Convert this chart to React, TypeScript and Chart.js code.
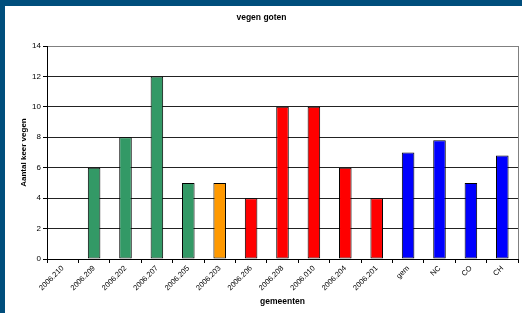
import { useEffect, useRef } from 'react';
import { Chart, registerables } from 'chart.js';
Chart.register(...registerables);

const chartTitle = 'vegen goten';
const xTitle = 'gemeenten';
const yTitle = 'Aantal keer vegen';
const categories = ['2006.210', '2006.209', '2006.202', '2006.207', '2006.205', '2006.203', '2006.206', '2006.208', '2006.010', '2006.204', '2006.201', 'gem', 'NC', 'CO', 'CH'];
const values: (number | null)[] = [null, 6, 8, 12, 5, 5, 4, 10, 10, 6, 4, 7, 7.8, 5, 6.8];
const barColors = ['#339966', '#339966', '#339966', '#339966', '#339966', '#FF9900', '#FF0000', '#FF0000', '#FF0000', '#FF0000', '#FF0000', '#0000FF', '#0000FF', '#0000FF', '#0000FF'];
const yMin = 0;
const yMax = 14;
const yStep = 2;

const FONT = '"Liberation Sans", Arial, sans-serif';

export default function App() {
  const ref = useRef<HTMLCanvasElement>(null);
  useEffect(() => {
    document.body.style.margin = '0';
    const canvas = ref.current!;
    const plotBorder = {
      id: 'plotBorder',
      afterDatasetsDraw(chart: any) {
        const { ctx, chartArea } = chart;
        ctx.save();
        ctx.strokeStyle = '#808080';
        ctx.lineWidth = 1;
        ctx.beginPath();
        const x = Math.round(chartArea.right) + 0.5;
        ctx.moveTo(x, Math.round(chartArea.top));
        ctx.lineTo(x, Math.round(chartArea.bottom));
        ctx.stroke();
        ctx.restore();
      },
    };
    const chart = new Chart(canvas, {
      type: 'bar',
      data: {
        labels: categories,
        datasets: [
          {
            data: values,
            backgroundColor: barColors,
            borderColor: '#000000',
            borderWidth: 1,
            borderSkipped: false,
            barPercentage: 0.4,
            categoryPercentage: 1.0,
          },
        ],
      },
      options: {
        responsive: false,
        animation: false,
        devicePixelRatio: 1,
        layout: { padding: { top: 0, right: 4, bottom: 0, left: 0 } },
        plugins: {
          legend: { display: false },
          tooltip: { enabled: false },
          title: {
            display: true,
            text: chartTitle,
            color: '#000',
            font: { family: FONT, size: 8.5, weight: 'bold' },
            padding: { top: 7, bottom: 22.8 },
          },
        },
        scales: {
          x: {
            afterFit: (s: any) => { s.height = 54; },
            grid: {
              display: true,
              offset: true,
              drawOnChartArea: false,
              drawTicks: true,
              tickLength: 4,
              tickColor: '#000',
            },
            border: { display: true, color: '#000', width: 1 },
            ticks: {
              color: '#000',
              font: { family: FONT, size: 7.5 },
              minRotation: 45,
              maxRotation: 45,
              autoSkip: false,
              padding: 1,
            },
            title: {
              display: true,
              text: xTitle,
              color: '#000',
              font: { family: FONT, size: 8.5, weight: 'bold' },
              padding: { top: 0, bottom: 6 },
            },
          },
          y: {
            min: yMin,
            max: yMax,
            afterFit: (s: any) => { s.width = 42; },
            grid: {
              color: (c: any) => (c.tick && c.tick.value === yMax ? '#808080' : '#222'),
              lineWidth: 1,
              drawTicks: true,
              tickLength: 4,
              tickColor: '#000',
            },
            border: { display: true, color: '#000', width: 1 },
            ticks: {
              stepSize: yStep,
              color: '#000',
              font: { family: FONT, size: 8 },
              padding: 2,
            },
            title: {
              display: true,
              text: yTitle,
              color: '#000',
              font: { family: FONT, size: 8, weight: 'bold' },
              padding: { top: 14, bottom: 0 },
            },
          },
        },
      },
      plugins: [plotBorder],
    } as any);
    return () => chart.destroy();
  }, []);
  return (
    <div style={{ position: 'absolute', left: 0, top: 0, width: 522, height: 313, background: '#004E7C' }}>
      <div style={{ position: 'absolute', left: 5, top: 6, width: 517, height: 307, background: '#FFFFFF' }}>
        <canvas ref={ref} width={517} height={307} style={{ display: 'block' }} />
      </div>
    </div>
  );
}
